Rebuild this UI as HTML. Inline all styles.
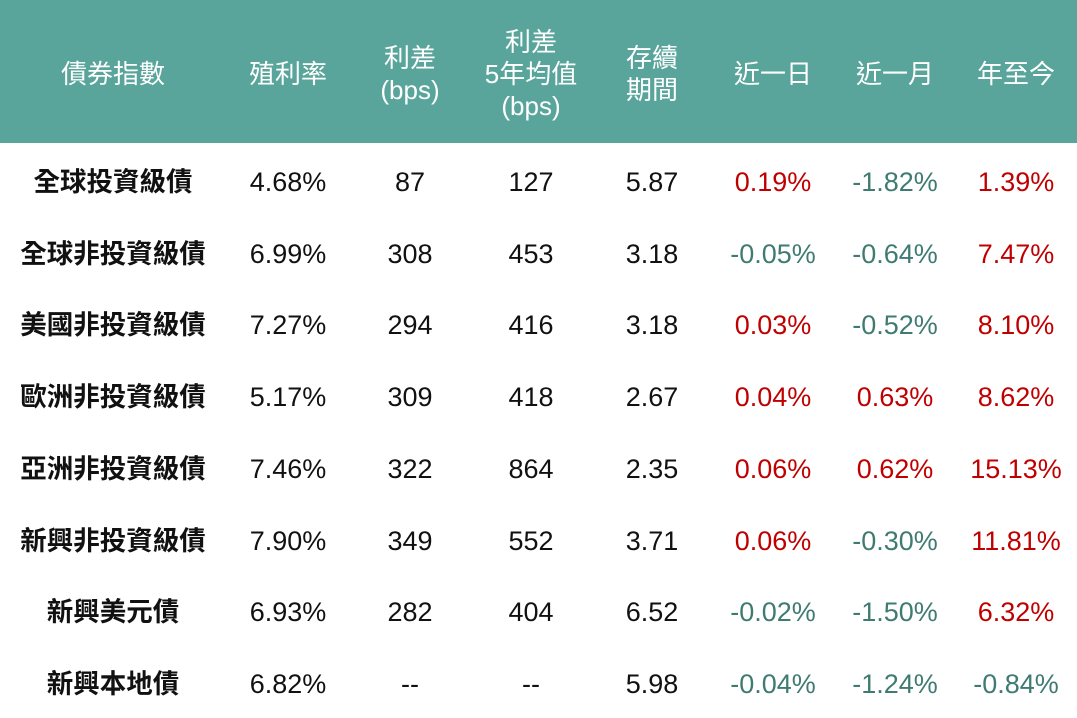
<!DOCTYPE html>
<html><head><meta charset="utf-8"><style>
body{margin:0;width:1077px;height:718px;background:#fff;overflow:hidden;font-family:"Liberation Sans","Noto Sans CJK TC",sans-serif;}
.hd{position:absolute;left:0;top:0;width:1077px;height:143px;background:#59a59b;}
.c{position:absolute;transform:translate(-50%,-50%);text-align:center;white-space:nowrap;font-size:27px;color:#111;line-height:32px;}
.h{color:#fff;font-size:26px;}
.r{color:#c00000;}
.g{color:#3f7b72;}
.n{font-weight:bold;font-size:26.5px;}
</style></head><body>
<div class="hd"></div>
<div class="c h" style="left:113px;top:74px">債券指數</div>
<div class="c h" style="left:288px;top:74px">殖利率</div>
<div class="c h" style="left:410px;top:74px">利差<br>(bps)</div>
<div class="c h" style="left:531px;top:74px">利差<br>5年均值<br>(bps)</div>
<div class="c h" style="left:652px;top:74px">存續<br>期間</div>
<div class="c h" style="left:773px;top:74px">近一日</div>
<div class="c h" style="left:895px;top:74px">近一月</div>
<div class="c h" style="left:1016px;top:74px">年至今</div>
<div id="rows"></div>
<script>
var d=[["全球投資級債","4.68%","87","127","5.87","0.19%","-1.82%","1.39%"],
["全球非投資級債","6.99%","308","453","3.18","-0.05%","-0.64%","7.47%"],
["美國非投資級債","7.27%","294","416","3.18","0.03%","-0.52%","8.10%"],
["歐洲非投資級債","5.17%","309","418","2.67","0.04%","0.63%","8.62%"],
["亞洲非投資級債","7.46%","322","864","2.35","0.06%","0.62%","15.13%"],
["新興非投資級債","7.90%","349","552","3.71","0.06%","-0.30%","11.81%"],
["新興美元債","6.93%","282","404","6.52","-0.02%","-1.50%","6.32%"],
["新興本地債","6.82%","--","--","5.98","-0.04%","-1.24%","-0.84%"]];
var xs=[113,288,410,531,652,773,895,1016],h="";
d.forEach(function(r,i){var y=182+i*71.7;r.forEach(function(v,j){var cl=j==0?"n":(j>=5?(v[0]=="-"?"g":"r"):"");h+='<div class="c '+cl+'" style="left:'+xs[j]+'px;top:'+y+'px">'+v+'</div>';});});
document.getElementById("rows").innerHTML=h;
</script>
</body></html>
